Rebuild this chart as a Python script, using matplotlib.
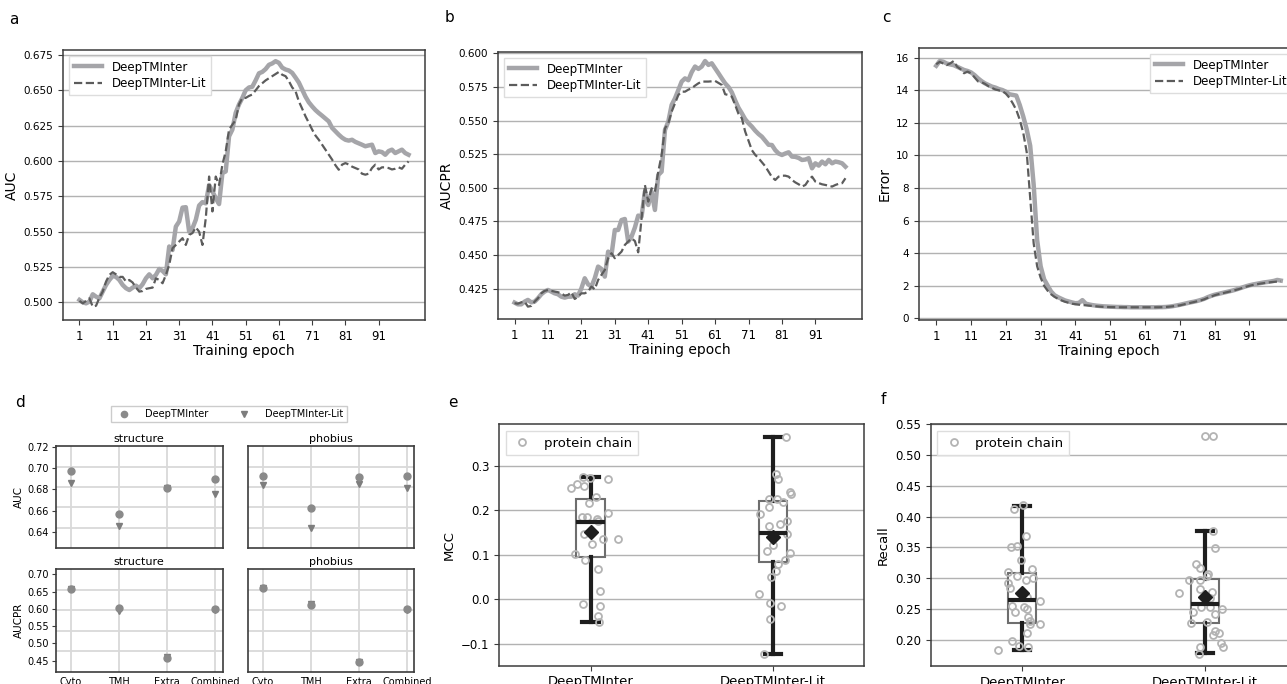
import numpy as np
import matplotlib
matplotlib.use("Agg")
import matplotlib.pyplot as plt
from matplotlib.lines import Line2D

# ---- panel a-c : training curves (epoch 1..100) ----
epochs = np.arange(1, 101)

auc_deep = [
    0.5017, 0.5000, 0.4993, 0.5005, 0.5057, 0.5040, 0.5028, 0.5076, 0.5123, 0.5158,
    0.5187, 0.5180, 0.5158, 0.5123, 0.5100, 0.5087, 0.5104, 0.5118, 0.5100, 0.5128,
    0.5170, 0.5198, 0.5170, 0.5194, 0.5236, 0.5222, 0.5198, 0.5395, 0.5370, 0.5536,
    0.5572, 0.5670, 0.5673, 0.5500, 0.5524, 0.5584, 0.5685, 0.5709, 0.5700, 0.5830,
    0.5785, 0.5737, 0.5695, 0.5914, 0.5926, 0.6174, 0.6222, 0.6340, 0.6400, 0.6446,
    0.6500, 0.6520, 0.6525, 0.6570, 0.6620, 0.6630, 0.6650, 0.6680, 0.6690, 0.6706,
    0.6694, 0.6660, 0.6647, 0.6640, 0.6623, 0.6590, 0.6555, 0.6505, 0.6455, 0.6415,
    0.6386, 0.6360, 0.6339, 0.6320, 0.6300, 0.6280, 0.6234, 0.6210, 0.6186, 0.6165,
    0.6150, 0.6144, 0.6150, 0.6135, 0.6125, 0.6115, 0.6104, 0.6110, 0.6115, 0.6056,
    0.6068, 0.6063, 0.6044, 0.6070, 0.6080, 0.6056, 0.6068, 0.6080, 0.6056, 0.6044,
]
auc_lit = [
    0.5010, 0.4993, 0.5010, 0.5028, 0.4969, 0.4976, 0.5033, 0.5076, 0.5147, 0.5194,
    0.5213, 0.5198, 0.5180, 0.5180, 0.5147, 0.5158, 0.5140, 0.5104, 0.5076, 0.5080,
    0.5095, 0.5100, 0.5104, 0.5170, 0.5158, 0.5135, 0.5194, 0.5265, 0.5383, 0.5406,
    0.5430, 0.5454, 0.5406, 0.5477, 0.5490, 0.5530, 0.5500, 0.5406, 0.5595, 0.5890,
    0.5643, 0.5890, 0.5830, 0.5974, 0.6068, 0.6222, 0.6257, 0.6290, 0.6400, 0.6446,
    0.6446, 0.6460, 0.6470, 0.6500, 0.6530, 0.6550, 0.6570, 0.6585, 0.6600, 0.6615,
    0.6630, 0.6610, 0.6600, 0.6565, 0.6520, 0.6494, 0.6422, 0.6370, 0.6316, 0.6270,
    0.6222, 0.6180, 0.6150, 0.6115, 0.6080, 0.6045, 0.6010, 0.5970, 0.5938, 0.5974,
    0.5985, 0.5975, 0.5960, 0.5950, 0.5940, 0.5910, 0.5903, 0.5910, 0.5950, 0.5974,
    0.5940, 0.5955, 0.5955, 0.5950, 0.5940, 0.5945, 0.5955, 0.5945, 0.5974, 0.5997,
]

aucpr_deep = [
    0.4146, 0.4133, 0.4133, 0.4153, 0.4166, 0.4148, 0.4153, 0.4178, 0.4208, 0.4228,
    0.4240, 0.4228, 0.4215, 0.4208, 0.4190, 0.4183, 0.4190, 0.4190, 0.4208, 0.4198,
    0.4252, 0.4327, 0.4282, 0.4265, 0.4327, 0.4414, 0.4396, 0.4339, 0.4525, 0.4500,
    0.4686, 0.4686, 0.4760, 0.4768, 0.4600, 0.4637, 0.4704, 0.4793, 0.4786, 0.4971,
    0.4872, 0.4971, 0.4835, 0.5095, 0.5120, 0.5430, 0.5492, 0.5616, 0.5665, 0.5727,
    0.5790, 0.5814, 0.5800, 0.5860, 0.5902, 0.5884, 0.5902, 0.5943, 0.5914, 0.5926,
    0.5889, 0.5852, 0.5814, 0.5777, 0.5750, 0.5710, 0.5650, 0.5595, 0.5554, 0.5510,
    0.5480, 0.5455, 0.5425, 0.5400, 0.5380, 0.5350, 0.5320, 0.5318, 0.5280, 0.5255,
    0.5244, 0.5255, 0.5264, 0.5232, 0.5230, 0.5222, 0.5207, 0.5210, 0.5220, 0.5145,
    0.5182, 0.5165, 0.5195, 0.5175, 0.5207, 0.5182, 0.5195, 0.5190, 0.5182, 0.5157,
]
aucpr_lit = [
    0.4141, 0.4138, 0.4148, 0.4153, 0.4116, 0.4121, 0.4153, 0.4178, 0.4215, 0.4233,
    0.4240, 0.4233, 0.4228, 0.4223, 0.4215, 0.4198, 0.4203, 0.4223, 0.4173, 0.4190,
    0.4215, 0.4215, 0.4228, 0.4265, 0.4245, 0.4314, 0.4352, 0.4389, 0.4476, 0.4513,
    0.4476, 0.4500, 0.4525, 0.4575, 0.4600, 0.4624, 0.4604, 0.4520, 0.4773, 0.5021,
    0.4897, 0.4996, 0.4971, 0.5120, 0.5244, 0.5442, 0.5480, 0.5566, 0.5628, 0.5690,
    0.5715, 0.5715, 0.5730, 0.5740, 0.5760, 0.5777, 0.5790, 0.5790, 0.5790, 0.5792,
    0.5795, 0.5780, 0.5765, 0.5696, 0.5690, 0.5678, 0.5616, 0.5550, 0.5517, 0.5418,
    0.5350, 0.5280, 0.5245, 0.5220, 0.5190, 0.5160, 0.5120, 0.5080, 0.5058, 0.5083,
    0.5090, 0.5090, 0.5083, 0.5058, 0.5040, 0.5026, 0.5009, 0.5021, 0.5058, 0.5083,
    0.5046, 0.5035, 0.5026, 0.5021, 0.5015, 0.5009, 0.5021, 0.5030, 0.5034, 0.5071,
]

err_deep = [
    15.51, 15.80, 15.76, 15.65, 15.59, 15.55, 15.45, 15.35, 15.25, 15.19,
    15.10, 14.94, 14.74, 14.57, 14.43, 14.33, 14.23, 14.17, 14.08, 14.02,
    13.92, 13.76, 13.72, 13.68, 13.10, 12.40, 11.60, 10.60, 8.20, 4.80,
    3.20, 2.40, 2.02, 1.65, 1.42, 1.30, 1.20, 1.10, 1.04, 0.98,
    0.93, 0.95, 1.12, 0.90, 0.85, 0.81, 0.78, 0.76, 0.74, 0.73,
    0.72, 0.71, 0.70, 0.70, 0.69, 0.69, 0.68, 0.68, 0.68, 0.68,
    0.68, 0.68, 0.68, 0.68, 0.69, 0.69, 0.70, 0.72, 0.75, 0.79,
    0.83, 0.88, 0.93, 0.98, 1.02, 1.07, 1.13, 1.20, 1.30, 1.38,
    1.45, 1.50, 1.55, 1.60, 1.65, 1.70, 1.76, 1.83, 1.90, 1.97,
    2.03, 2.08, 2.12, 2.16, 2.20, 2.23, 2.26, 2.30, 2.36, 2.32,
]
err_lit = [
    15.60, 15.75, 15.65, 15.55, 15.65, 15.80, 15.45, 15.30, 15.05, 15.15,
    15.05, 14.80, 14.55, 14.50, 14.40, 14.25, 14.15, 14.05, 14.00, 13.95,
    13.80, 13.55, 13.20, 12.80, 12.20, 11.40, 10.20, 7.40, 4.60, 3.20,
    2.50, 2.00, 1.70, 1.48, 1.32, 1.20, 1.10, 1.02, 0.96, 0.90,
    0.87, 0.84, 0.82, 0.80, 0.78, 0.76, 0.74, 0.72, 0.71, 0.70,
    0.69, 0.69, 0.68, 0.68, 0.68, 0.68, 0.68, 0.68, 0.68, 0.68,
    0.68, 0.68, 0.68, 0.68, 0.68, 0.69, 0.70, 0.72, 0.74, 0.77,
    0.80, 0.85, 0.90, 0.95, 1.00, 1.05, 1.10, 1.17, 1.26, 1.34,
    1.42, 1.48, 1.53, 1.58, 1.63, 1.68, 1.74, 1.80, 1.87, 1.94,
    2.00, 2.05, 2.09, 2.13, 2.16, 2.19, 2.22, 2.24, 2.26, 2.28,
]

# ---- panel d : per-site AUC / AUCPR ----
sites = ['Cyto', 'TMH', 'Extra', 'Combined']
auc_structure_deep = [0.697, 0.657, 0.681, 0.690]
auc_structure_lit = [0.686, 0.646, 0.681, 0.676]
auc_phobius_deep = [0.693, 0.663, 0.692, 0.693]
auc_phobius_lit = [0.684, 0.644, 0.685, 0.681]
aucpr_structure_deep = [0.658, 0.602, 0.458, 0.599]
aucpr_structure_lit = [0.657, 0.594, 0.462, 0.598]
aucpr_phobius_deep = [0.661, 0.612, 0.447, 0.599]
aucpr_phobius_lit = [0.660, 0.613, 0.447, 0.598]

# ---- panels e/f : per protein chain ----
models = ['DeepTMInter', 'DeepTMInter-Lit']

mcc_deep_jit = [-0.108, -0.073, -0.037, -0.040, -0.004, 0.097, 0.028, -0.007, 0.094, -0.046,
                -0.022, 0.037, 0.042, -0.035, 0.009, 0.070, 0.149, -0.084, -0.028, 0.042,
                0.051, -0.040, 0.051, 0.042, 0.044]
mcc_deep = [0.250, 0.259, 0.255, 0.275, 0.274, 0.270, 0.231, 0.217, 0.195, 0.186,
            0.185, 0.180, 0.177, 0.147, 0.124, 0.135, 0.135, 0.101, 0.089, 0.067,
            0.019, -0.011, -0.015, -0.038, -0.052]
mcc_lit_jit = [0.073, 0.015, 0.029, -0.022, 0.020, 0.055, 0.092, 0.101, -0.073, -0.022,
               -0.022, 0.037, 0.079, 0.079, -0.031, 0.000, 0.092, 0.066, 0.029, 0.015,
               -0.013, -0.077, -0.018, 0.042, -0.017, -0.050]
mcc_lit = [0.365, 0.283, 0.272, 0.225, 0.227, 0.219, 0.241, 0.237, 0.191, 0.208,
           0.165, 0.169, 0.176, 0.148, 0.108, 0.123, 0.105, 0.089, 0.080, 0.064,
           0.049, 0.011, -0.008, -0.015, -0.044, -0.123]

rec_deep_jit = [-0.045, 0.005, -0.060, -0.027, 0.022, -0.004, -0.076, -0.027, 0.022, 0.058,
                0.053, -0.078, -0.067, -0.058, -0.042, 0.009, 0.024, 0.027, 0.031, 0.042,
                0.045, 0.095, 0.096, 0.024, -0.055, -0.015, 0.031, -0.131]
rec_deep = [0.412, 0.418, 0.351, 0.352, 0.368, 0.329, 0.311, 0.303, 0.297, 0.300,
            0.315, 0.293, 0.285, 0.256, 0.245, 0.254, 0.269, 0.251, 0.238, 0.231,
            0.226, 0.263, 0.226, 0.211, 0.198, 0.191, 0.189, 0.184]
rec_lit_jit = [0.000, 0.045, 0.045, 0.055, -0.051, -0.027, 0.013, -0.091, -0.031, 0.009,
               -0.145, -0.031, 0.036, 0.027, -0.067, -0.024, 0.024, 0.055, 0.091, -0.078,
               0.009, 0.055, 0.073, 0.045, 0.085, 0.095, -0.027, -0.036]
rec_lit = [0.530, 0.530, 0.376, 0.349, 0.324, 0.316, 0.307, 0.297, 0.297, 0.303,
           0.277, 0.282, 0.278, 0.268, 0.246, 0.254, 0.254, 0.242, 0.250, 0.228,
           0.230, 0.214, 0.212, 0.209, 0.196, 0.189, 0.189, 0.178]

# box summaries (q1, median, q3, whisker low, whisker high, mean)
mcc_box_deep = [0.0955, 0.173, 0.227, -0.051, 0.275, 0.152]
mcc_box_lit = [0.083, 0.150, 0.221, -0.123, 0.365, 0.141]
rec_box_deep = [0.228, 0.265, 0.308, 0.184, 0.4175, 0.277]
rec_box_lit = [0.228, 0.258, 0.2985, 0.179, 0.376, 0.270]

SOLID = '#a5a5a9'
DASH = '#5c5c5c'
GRID = '#b2b2b2'
SPINE = '#3c3c3c'
W, H = 1287, 684


def rect(left, top, right, bottom):
    return [left / W, 1 - bottom / H, (right - left) / W, (bottom - top) / H]


def style_spines(ax, lw=1.1):
    for s in ax.spines.values():
        s.set_color(SPINE)
        s.set_linewidth(lw)


fig = plt.figure(figsize=(W / 100, H / 100), dpi=100)


def curve_panel(r, deep, lit, ylabel, ylim, yticks, fmt, loc):
    ax = fig.add_axes(r)
    ax.plot(epochs, deep, color=SOLID, lw=3.2, label='DeepTMInter')
    ax.plot(epochs, lit, color=DASH, lw=1.6, ls='--', label='DeepTMInter-Lit')
    ax.set_xlim(-3.95, 104.95)
    ax.set_ylim(*ylim)
    ax.set_xticks(np.arange(1, 100, 10))
    ax.set_yticks(yticks)
    ax.set_yticklabels([fmt.format(v) for v in yticks])
    ax.yaxis.grid(True, color=GRID, lw=1.0)
    ax.set_axisbelow(True)
    ax.tick_params(labelsize=7.5, length=3.5, color=SPINE)
    ax.tick_params(axis='x', labelsize=8.5)
    ax.set_xlabel('Training epoch', fontsize=10, labelpad=1)
    ax.set_ylabel(ylabel, fontsize=10, labelpad=3)
    style_spines(ax)
    ax.legend(loc=loc, fontsize=8.5, handlelength=2.4, borderpad=0.4,
              labelspacing=0.3, framealpha=1, edgecolor='#dddddd', fancybox=False)
    return ax


curve_panel(rect(63, 50, 425, 320), auc_deep, auc_lit, 'AUC', (0.4875, 0.6785),
            np.arange(0.5, 0.676, 0.025), '{:.3f}', 'upper left')
curve_panel(rect(498, 52, 862, 319), aucpr_deep, aucpr_lit, 'AUCPR', (0.4024, 0.601),
            np.arange(0.425, 0.601, 0.025), '{:.3f}', 'upper left')
curve_panel(rect(919, 48, 1298, 320), err_deep, err_lit, 'Error', (-0.1, 16.6),
            np.arange(0, 17, 2), '{:.0f}', 'upper right')

# ---- panel d ----
d_axes = [
    (rect(55.7, 445.7, 222.7, 548.3), auc_structure_deep, auc_structure_lit, 'structure', 'AUC'),
    (rect(247.7, 445.7, 414, 548.3), auc_phobius_deep, auc_phobius_lit, 'phobius', None),
    (rect(55.7, 569, 222.7, 671.7), aucpr_structure_deep, aucpr_structure_lit, 'structure', 'AUCPR'),
    (rect(247.7, 569, 414, 671.7), aucpr_phobius_deep, aucpr_phobius_lit, 'phobius', None),
]
d_grid_top = [0.6443, 0.6633, 0.6826, 0.7013]
d_grid_bottom = [0.478, 0.5369, 0.5967, 0.6546]
xs = np.arange(len(sites))
for i, (r, deep, lit, title, ylabel) in enumerate(d_axes):
    ax = fig.add_axes(r)
    ax.plot(xs, lit, 'v', color='#7d7d7d', ms=5, zorder=3)
    ax.plot(xs, deep, 'o', color='#8a8a8a', ms=5, zorder=4)
    ax.set_xlim(-0.31, 3.15)
    top = i < 2
    if top:
        ax.set_ylim(0.625, 0.7209)
        ax.set_yticks([0.64, 0.66, 0.68, 0.70, 0.72])
        ax.set_yticks(d_grid_top, minor=True)
    else:
        ax.set_ylim(0.418, 0.7153)
        ax.set_yticks([0.45, 0.50, 0.55, 0.60, 0.65, 0.70])
        ax.set_yticks(d_grid_bottom, minor=True)
    ax.set_xticks(xs)
    ax.grid(True, which='minor', axis='y', color='#d9d9d9', lw=1.3)
    ax.grid(True, which='major', axis='x', color='#d9d9d9', lw=1.3)
    ax.set_axisbelow(True)
    ax.tick_params(which='minor', length=0)
    ax.tick_params(axis='x', length=0)
    ax.tick_params(axis='y', labelsize=7, length=3, color=SPINE, pad=2)
    if top:
        ax.set_xticklabels([])
    else:
        ax.set_xticklabels(sites, fontsize=7)
    if ylabel:
        ax.set_ylabel(ylabel, fontsize=7.5, labelpad=2)
        ax.set_yticklabels(['{:.2f}'.format(v) for v in ax.get_yticks()])
    else:
        ax.tick_params(axis='y', labelleft=False, length=0)
    ax.set_title(title, fontsize=8, pad=3)
    style_spines(ax, 1.2)

d_handles = [
    Line2D([], [], ls='', marker='o', color='#8a8a8a', ms=4.5, label='DeepTMInter'),
    Line2D([], [], ls='', marker='v', color='#7d7d7d', ms=4.5, label='DeepTMInter-Lit'),
]
fig.legend(handles=d_handles, loc='center', bbox_to_anchor=(228.7 / W, 1 - 414 / H),
           ncol=2, fontsize=7, columnspacing=2.6, handletextpad=1.2, borderpad=0.35,
           framealpha=1, edgecolor='#cccccc', fancybox=False)


# ---- panels e and f ----
def box_panel(r, jit, vals, boxes, ylabel, ylim, yticks, fmt):
    ax = fig.add_axes(r)
    stats = []
    for j, b in enumerate(boxes):
        stats.append({'q1': b[0], 'med': b[1], 'q3': b[2], 'whislo': b[3],
                      'whishi': b[4], 'mean': b[5], 'fliers': [], 'label': models[j]})
    ax.bxp(stats, positions=[0, 1], widths=0.155, capwidths=0.09, showmeans=True,
           showfliers=False, patch_artist=True,
           boxprops=dict(facecolor='white', edgecolor='#6e6e6e', lw=1.5),
           whiskerprops=dict(color='#1e1e1e', lw=3),
           capprops=dict(color='#1e1e1e', lw=3),
           medianprops=dict(color='#1e1e1e', lw=3, zorder=5),
           meanprops=dict(marker='D', markerfacecolor='#1e1e1e', markeredgecolor='#1e1e1e',
                          markersize=7, zorder=6))
    for j in range(2):
        ax.plot(np.array(jit[j]) + j, vals[j], 'o', mfc='none', mec='#b3b3b3',
                mew=1.3, ms=5, zorder=4, label='protein chain' if j == 0 else None)
    ax.set_xlim(-0.5, 1.5)
    ax.set_ylim(*ylim)
    ax.set_yticks(yticks)
    ax.set_yticklabels([fmt.format(v).replace('-', '\u2212') for v in yticks])
    ax.set_xticks([0, 1])
    ax.set_xticklabels(models, fontsize=9.5)
    ax.yaxis.grid(True, color=GRID, lw=1.0)
    ax.set_axisbelow(True)
    ax.tick_params(labelsize=8.5, length=3.5, color=SPINE)
    ax.tick_params(axis='x', labelsize=9.5)
    ax.set_ylabel(ylabel, fontsize=9.5, labelpad=4)
    style_spines(ax)
    ax.legend(loc='upper left', fontsize=9.5, handlelength=1.6, borderpad=0.45,
              framealpha=1, edgecolor='#dddddd', fancybox=False)


box_panel(rect(499.3, 424, 864.3, 665.7), [mcc_deep_jit, mcc_lit_jit], [mcc_deep, mcc_lit],
          [mcc_box_deep, mcc_box_lit], 'MCC', (-0.15, 0.395),
          [-0.1, 0.0, 0.1, 0.2, 0.3], '{:.1f}')
box_panel(rect(930.7, 424, 1296.7, 666), [rec_deep_jit, rec_lit_jit], [rec_deep, rec_lit],
          [rec_box_deep, rec_box_lit], 'Recall', (0.158, 0.55),
          [0.20, 0.25, 0.30, 0.35, 0.40, 0.45, 0.50, 0.55], '{:.2f}')

# panel letters
for letter, x, y in [('a', 14, 20), ('b', 450, 18), ('c', 886, 17),
                     ('d', 20, 402), ('e', 453, 402), ('f', 883, 400)]:
    fig.text(x / W, 1 - y / H, letter, fontsize=11, ha='center', va='center')

fig.savefig('out.png', dpi=100)
